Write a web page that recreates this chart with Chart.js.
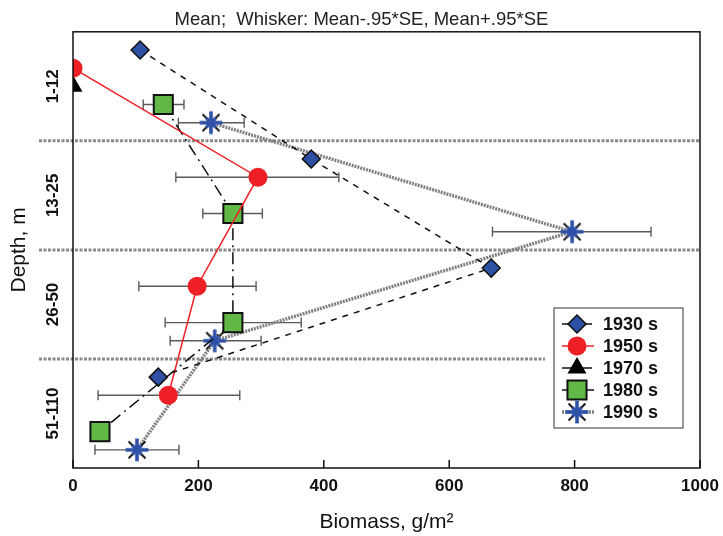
<!DOCTYPE html>
<html>
<head>
<meta charset="utf-8">
<script src="https://cdn.jsdelivr.net/npm/chart.js@4.4.0/dist/chart.umd.min.js"></script>
<style>
  html, body { margin: 0; padding: 0; background: #fff; }
  #wrap { width: 723px; height: 536px; }
</style>
</head>
<body>
<div id="wrap"><canvas id="myChart"></canvas></div>
<script>
// --- DATA ---
const depthBands = ["1-12", "13-25", "26-50", "51-110"];
const decades = ["1930 s", "1950 s", "1970 s", "1980 s", "1990 s"];
const xTicks = [0, 200, 400, 600, 800, 1000];

// mean biomass per depth band
const mean1930 = [107, 380, 667, 136];
const mean1950 = [0, 295, 198, 152];
const mean1970 = [0, null, null, null];
const mean1980 = [144, 255, 255, 43];
const mean1990 = [220, 796, 226, 102];

// whiskers (mean -/+ .95*SE)
const low1930 = [null, null, null, null];
const high1930 = [null, null, null, null];
const low1950 = [null, 164, 105, 40];
const high1950 = [null, 424, 292, 266];
const low1970 = [null, null, null, null];
const high1970 = [null, null, null, null];
const low1980 = [112, 207, 147, null];
const high1980 = [177, 302, 364, null];
const low1990 = [168, 669, 155, 35];
const high1990 = [273, 922, 300, 169];
// -------------------------------------------

const means = [mean1930, mean1950, mean1970, mean1980, mean1990];
const lows = [low1930, low1950, low1970, low1980, low1990];
const highs = [high1930, high1950, high1970, high1980, high1990];

// each decade sits at its own slot inside a depth band
const slotY = (band, k) => band + (k + 1) / 6;

const FONT = "Arial, 'Liberation Sans', sans-serif";

// --- star marker (1990 s) ---
function makeStar(r) {
  const c = document.createElement("canvas");
  const s = Math.ceil(r * 2 + 4);
  c.width = s;
  c.height = s;
  const g = c.getContext("2d");
  const m = s / 2;
  g.strokeStyle = "#1a1a1a";
  g.lineWidth = 2;
  for (let a = 0; a < 4; a++) {
    const ang = Math.PI / 4 + (a * Math.PI) / 2;
    g.beginPath();
    g.moveTo(m, m);
    g.lineTo(m + Math.cos(ang) * r, m + Math.sin(ang) * r);
    g.stroke();
  }
  g.strokeStyle = "#2f51a8";
  g.lineWidth = 3.6;
  for (let a = 0; a < 4; a++) {
    const ang = (a * Math.PI) / 2;
    g.beginPath();
    g.moveTo(m, m);
    g.lineTo(m + Math.cos(ang) * r * 0.95, m + Math.sin(ang) * r * 0.95);
    g.stroke();
  }
  g.lineWidth = 3.2;
  for (let a = 0; a < 4; a++) {
    const ang = Math.PI / 4 + (a * Math.PI) / 2;
    g.beginPath();
    g.moveTo(m, m);
    g.lineTo(m + Math.cos(ang) * r * 0.55, m + Math.sin(ang) * r * 0.55);
    g.stroke();
  }
  return c;
}
const starImg = makeStar(12);

const styles = [
  { color: "#111", dash: [6, 6], width: 1.5, point: "rectRot", radius: 9, fill: "#2d4fa4", border: "#111", bw: 1.5 },
  { color: "#ee2026", dash: [], width: 1.5, point: "circle", radius: 9.5, fill: "#ee2026", border: "#ee2026", bw: 0 },
  { color: "#111", dash: [10, 4, 2, 4], width: 1.5, point: "triangle", radius: 11, fill: "#000", border: "#000", bw: 0 },
  { color: "#111", dash: [12, 5, 2, 5], width: 1.5, point: "rect", radius: 13.5, fill: "#62b846", border: "#111", bw: 2 },
  { color: "#808080", dash: [2, 1], width: 3.4, point: starImg, radius: 12, fill: "#2f51a8", border: "#2f51a8", bw: 0 },
];

const datasets = decades.map((name, k) => {
  const st = styles[k];
  const pts = [];
  means[k].forEach((v, band) => {
    if (v !== null) pts.push({ x: v, y: slotY(band, k) });
  });
  return {
    label: name,
    data: pts,
    borderColor: st.color,
    borderDash: st.dash,
    borderWidth: st.width,
    pointStyle: st.point,
    pointRadius: st.radius,
    pointHoverRadius: st.radius,
    pointBackgroundColor: st.fill,
    pointBorderColor: st.border,
    pointBorderWidth: st.bw,
    showLine: true,
    tension: 0,
    clip: 0,
    order: k === 4 ? 5 : k,
  };
});

// --- PLUGIN: band separators, whiskers, labels, frame, legend ---
const depthDecor = {
  id: "depthDecor",
  beforeDatasetsDraw(chart) {
    const { ctx, chartArea: ca, scales: { x, y } } = chart;
    ctx.save();
    // band separators
    ctx.strokeStyle = "#8a8a8a";
    ctx.lineWidth = 3;
    ctx.setLineDash([3, 1.5]);
    for (let b = 1; b < depthBands.length; b++) {
      const py = y.getPixelForValue(b);
      const xEnd = b === depthBands.length - 1 ? ca.right - 155 : ca.right;
      ctx.beginPath();
      ctx.moveTo(ca.left - 34, py);
      ctx.lineTo(xEnd, py);
      ctx.stroke();
    }
    ctx.setLineDash([]);
    // whiskers
    ctx.strokeStyle = "#5a5a5a";
    ctx.lineWidth = 1.4;
    lows.forEach((lo, k) => {
      lo.forEach((l, band) => {
        const h = highs[k][band];
        if (l === null || h === null) return;
        const py = y.getPixelForValue(slotY(band, k));
        const x1 = x.getPixelForValue(l);
        const x2 = x.getPixelForValue(h);
        ctx.beginPath();
        ctx.moveTo(x1, py); ctx.lineTo(x2, py);
        ctx.moveTo(x1, py - 5); ctx.lineTo(x1, py + 5);
        ctx.moveTo(x2, py - 5); ctx.lineTo(x2, py + 5);
        ctx.stroke();
      });
    });
    ctx.restore();
  },
  afterDraw(chart) {
    const { ctx, chartArea: ca, scales: { x, y } } = chart;
    ctx.save();
    // frame
    ctx.strokeStyle = "#111";
    ctx.lineWidth = 1.5;
    ctx.strokeRect(ca.left, ca.top, ca.right - ca.left, ca.bottom - ca.top);
    // inner ticks on x
    ctx.beginPath();
    x.ticks.forEach((t) => {
      const px = x.getPixelForValue(t.value);
      ctx.moveTo(px, ca.bottom);
      ctx.lineTo(px, ca.bottom - 8);
    });
    ctx.stroke();
    // depth labels (rotated)
    ctx.fillStyle = "#111";
    ctx.font = "bold 17px " + FONT;
    ctx.textAlign = "center";
    ctx.textBaseline = "middle";
    depthBands.forEach((lab, b) => {
      const py = y.getPixelForValue(b + 0.5);
      ctx.save();
      ctx.translate(ca.left - 20, py);
      ctx.rotate(-Math.PI / 2);
      ctx.fillText(lab, 0, 0);
      ctx.restore();
    });
    // legend box
    const w = 129, h = 120;
    const lx = ca.right - 17 - w;
    const ly = ca.bottom - 40 - h;
    ctx.fillStyle = "#fff";
    ctx.fillRect(lx, ly, w, h);
    ctx.strokeStyle = "#555";
    ctx.lineWidth = 1.2;
    ctx.strokeRect(lx, ly, w, h);
    chart.data.datasets.forEach((ds, k) => {
      const st = styles[k];
      const cy = ly + 16 + k * 22;
      ctx.strokeStyle = st.color;
      ctx.lineWidth = st.width;
      ctx.setLineDash(st.dash);
      ctx.beginPath();
      ctx.moveTo(lx + 8, cy);
      ctx.lineTo(lx + 40, cy);
      ctx.stroke();
      ctx.setLineDash([]);
      ctx.fillStyle = st.fill;
      ctx.strokeStyle = st.border;
      ctx.lineWidth = st.bw;
      Chart.helpers.drawPoint(ctx, {
        pointStyle: st.point,
        radius: st.radius,
        rotation: 0,
        borderWidth: st.bw,
      }, lx + 23, cy);
      ctx.fillStyle = "#111";
      ctx.font = "bold 18px " + FONT;
      ctx.textAlign = "left";
      ctx.textBaseline = "middle";
      ctx.fillText(ds.label, lx + 49, cy + 1);
    });
    ctx.restore();
  },
};

const config = {
  type: "line",
  data: { datasets },
  options: {
    responsive: true,
    maintainAspectRatio: false,
    animation: false,
    layout: { padding: 0 },
    plugins: {
      legend: { display: false },
      tooltip: { enabled: false },
      title: {
        display: true,
        text: "Mean;  Whisker: Mean-.95*SE, Mean+.95*SE",
        color: "#222",
        font: { family: FONT, size: 18.5, weight: "normal", lineHeight: 1.125 },
        padding: { top: 9, bottom: 2 },
      },
    },
    scales: {
      x: {
        type: "linear",
        min: 0,
        max: 1000,
        afterBuildTicks: (s) => { s.ticks = xTicks.map((v) => ({ value: v })); },
        afterFit: (s) => {
          s.height = 68;
          s.paddingLeft = 0;
          s.paddingRight = 0;
        },
        grid: { display: false, drawTicks: false },
        border: { display: false },
        ticks: {
          color: "#111",
          padding: 8,
          maxRotation: 0,
          callback: (v) => String(v),
          font: { family: FONT, size: 17, weight: "bold" },
        },
        title: {
          display: true,
          text: "Biomass, g/m²",
          color: "#111",
          font: { family: FONT, size: 21 },
          padding: { top: 0, bottom: 1 },
        },
      },
      y: {
        type: "linear",
        min: 0,
        max: depthBands.length,
        reverse: true,
        afterFit: (s) => { s.width = 73; },
        grid: { display: false, drawTicks: false },
        border: { display: false },
        ticks: { display: false },
        title: {
          display: true,
          text: "Depth, m",
          color: "#111",
          font: { family: FONT, size: 21 },
          padding: { top: 7, bottom: 0 },
        },
      },
      // empty right-hand margin
      yRight: {
        type: "linear",
        position: "right",
        afterFit: (s) => { s.width = 23; },
        grid: { display: false, drawTicks: false },
        border: { display: false },
        ticks: { display: false },
      },
    },
  },
  plugins: [depthDecor],
};

const myChart = new Chart(document.getElementById("myChart"), config);
</script>
</body>
</html>
